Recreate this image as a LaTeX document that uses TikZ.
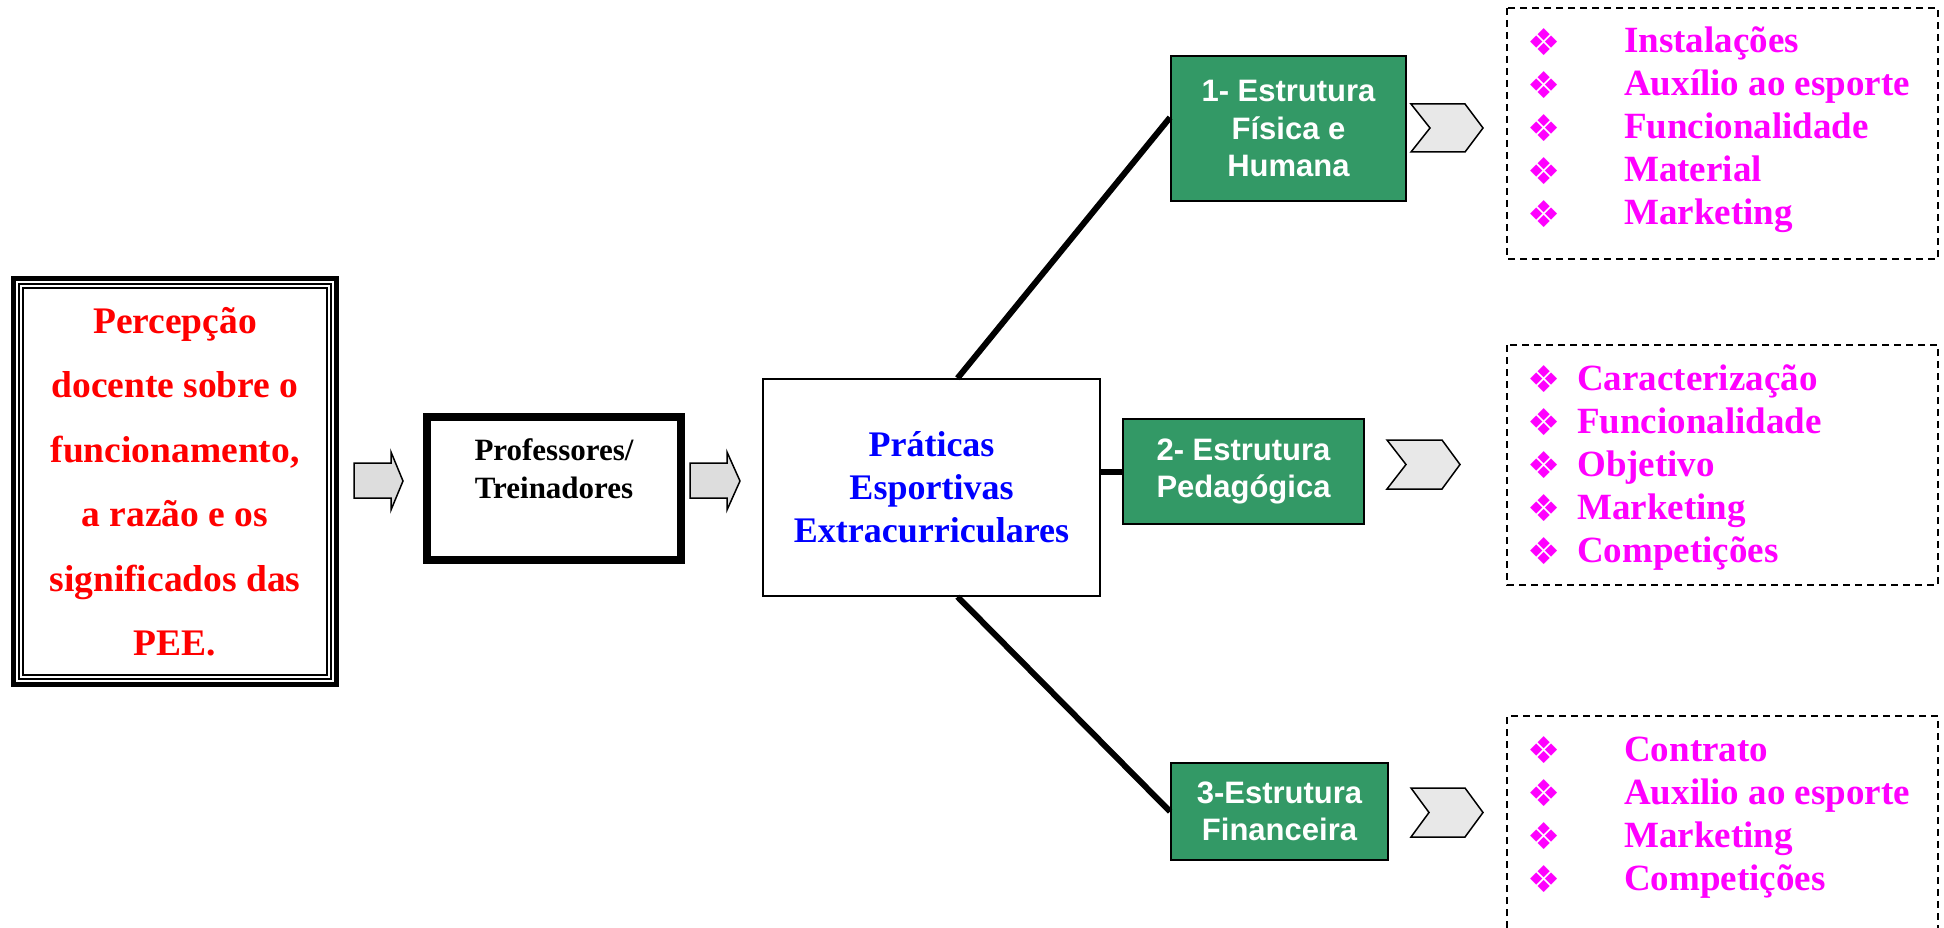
\documentclass[tikz,border=0pt]{standalone}
\usepackage{fontspec}
\setmainfont{Liberation Serif}
\newfontfamily\arialfont{Liberation Sans}
\newfontfamily\dingfont{DejaVu Sans}
\definecolor{boxgreen}{HTML}{339966}
\definecolor{arrowgrey}{HTML}{DDDDDD}
\definecolor{chevgrey}{HTML}{E8E8E8}
\definecolor{itemmag}{HTML}{FF00FF}
\begin{document}
\begin{tikzpicture}[x=1pt,y=-1pt,
  greenbox/.style={draw=black, line width=2pt, fill=boxgreen, text=white,
    font={\arialfont\bfseries\fontsize{31}{37.5}\selectfont}, align=center, inner sep=0pt},
  blockarrow/.style={draw=black, line width=1.5pt, fill=arrowgrey, line join=miter},
  chevron/.style={draw=black, line width=1.5pt, fill=chevgrey, line join=miter},
  conn/.style={line width=6pt},
  listbox/.style={draw=black, line width=1.8pt, dash pattern=on 7pt off 5pt},
  bullet/.style={text=itemmag, font={\dingfont\fontsize{37}{37}\selectfont}, inner sep=0pt},
  item/.style={anchor=base west, text=itemmag, font={\bfseries\fontsize{37}{37}\selectfont}, inner sep=0pt}]
\useasboundingbox (0,0) rectangle (1944,928);

% left framed box
\node[draw, line width=5pt, minimum width=323pt, minimum height=406pt, inner sep=0pt,
  text=red, align=center, font={\bfseries\fontsize{37.5}{64.5}\selectfont}] (perc) at (175,481.5)
  {Percepção\\docente sobre o\\funcionamento,\\a razão e os\\significados das\\PEE.};
\draw[line width=2pt] ([shift={(8.2,8.2)}]perc.north west) rectangle ([shift={(-8.2,-8.2)}]perc.south east);
\draw[line width=1.7pt] ([shift={(12.3,12.3)}]perc.north west) rectangle ([shift={(-12.3,-12.3)}]perc.south east);

% professors box
\node[draw, line width=7.5pt, minimum width=254pt, minimum height=143pt, inner sep=0pt] (prof) at (554,488.5) {};
\node[align=center, inner sep=0pt, font={\bfseries\fontsize{31}{38}\selectfont}] (proftext) at (554,469) {Professores/\\Treinadores};

% central box
\node[draw, line width=1.5pt, minimum width=337pt, minimum height=217pt, inner sep=0pt,
  text=blue, align=center, font={\bfseries\fontsize{36}{43}\selectfont}] (pee) at (931.5,487.5)
  {Práticas\\Esportivas\\Extracurriculares};

% block arrows
\draw[blockarrow] (354,463) -- (391,463) -- (391,452) -- (403,481) -- (391,510) -- (391,498) -- (354,498) -- cycle;
\draw[blockarrow] (690,463) -- (727,463) -- (727,452) -- (740,481) -- (727,510) -- (727,498) -- (690,498) -- cycle;

% green boxes
\node[greenbox, minimum width=235pt, minimum height=145pt] (e1) at (1288.5,128.5) {1- Estrutura\\Física e\\Humana};
\node[greenbox, minimum width=241pt, minimum height=105pt] (e2) at (1243.5,471.5) {2- Estrutura\\Pedagógica};
\node[greenbox, minimum width=217pt, minimum height=97pt] (e3) at (1279.5,811.5) {3-Estrutura\\Financeira};

% connectors
\draw[conn] ([xshift=26pt]pee.north) -- ([yshift=11pt]e1.west);
\draw[conn] (e2.west -| pee.east) -- (e2.west);
\draw[conn] ([xshift=26pt]pee.south) -- (e3.west);

% chevrons
\draw[chevron] (1411,104) -- (1465,104) -- (1483,128) -- (1465,152) -- (1411,152) -- (1430,128) -- cycle;
\draw[chevron] (1387,440) -- (1442,440) -- (1460,464.5) -- (1442,489) -- (1387,489) -- (1406,464.5) -- cycle;
\draw[chevron] (1411,788) -- (1465,788) -- (1483,812.5) -- (1465,837) -- (1411,837) -- (1429,812.5) -- cycle;

% dashed list boxes
\draw[listbox] (1507,8) rectangle (1938,259);
\draw[listbox] (1507,345) rectangle (1938,585);
\draw[listbox] (1507,928) -- (1507,716) -- (1938,716) -- (1938,928);

\foreach \t [count=\i] in {Instalações, Auxílio ao esporte, Funcionalidade, Material, Marketing} {
  \node[bullet] (ba\i) at (1544,{42+43*(\i-1)}) {❖};
  \node[item] (ta\i) at (1624,{53+43*(\i-1)}) {\t};
}
\foreach \t [count=\i] in {Caracterização, Funcionalidade, Objetivo, Marketing, Competições} {
  \node[bullet] (bb\i) at (1544,{379+43*(\i-1)}) {❖};
  \node[item] (tb\i) at (1577,{390+43*(\i-1)}) {\t};
}
\foreach \t [count=\i] in {Contrato, Auxilio ao esporte, Marketing, Competições} {
  \node[bullet] (bc\i) at (1544,{750+43*(\i-1)}) {❖};
  \node[item] (tc\i) at (1624,{761+43*(\i-1)}) {\t};
}
\end{tikzpicture}
\end{document}
